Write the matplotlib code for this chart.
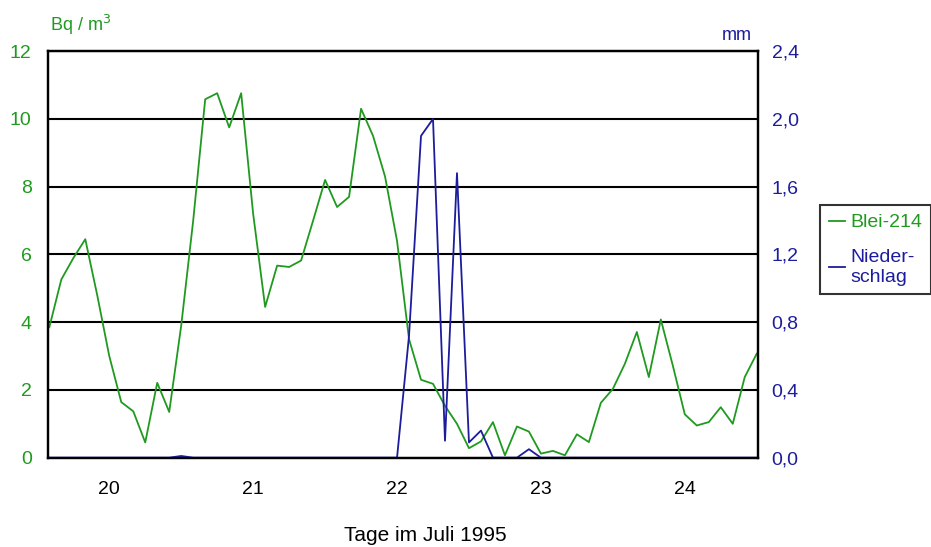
import matplotlib
matplotlib.use("Agg")
import matplotlib.pyplot as plt
import matplotlib.dates as mdates
import matplotlib.ticker as mticker
import pandas as pd

# 2-stuendige Messwerte ab 19.07.1995 14:00
zeit = pd.date_range("1995-07-19 14:00", periods=60, freq="2h")

blei214 = [3.85, 5.26, 5.89, 6.45, 4.79, 3.00, 1.64, 1.37, 0.45, 2.21,
           1.35, 3.90, 7.00, 10.58, 10.76, 9.75, 10.76, 7.20, 4.45, 5.67,
           5.63, 5.82, 7.00, 8.20, 7.40, 7.70, 10.30, 9.50, 8.30, 6.40,
           3.50, 2.30, 2.18, 1.53, 1.00, 0.28, 0.48, 1.05, 0.07, 0.92,
           0.77, 0.12, 0.20, 0.07, 0.69, 0.46, 1.62, 2.03, 2.77, 3.71,
           2.38, 4.08, 2.72, 1.28, 0.95, 1.05, 1.49, 1.00, 2.38, 3.07]

niederschlag = [0, 0, 0, 0, 0, 0, 0, 0, 0, 0,
                0, 0.01, 0, 0, 0, 0, 0, 0, 0, 0,
                0, 0, 0, 0, 0, 0, 0, 0, 0, 0,
                0.72, 1.90, 2.00, 0.10, 1.68, 0.09, 0.16, 0, 0, 0,
                0.05, 0, 0, 0, 0, 0, 0, 0, 0, 0,
                0, 0, 0, 0, 0, 0, 0, 0, 0, 0]

links_ticks = [0, 2, 4, 6, 8, 10, 12]
rechts_ticks = [0.0, 0.4, 0.8, 1.2, 1.6, 2.0, 2.4]

gruen = "#1f9a1f"
blau = "#1c1c9c"

plt.rcParams["font.family"] = ["Liberation Sans", "DejaVu Sans"]

fig = plt.figure(figsize=(9.31, 5.47), dpi=100)
ax = fig.add_axes([0.0519, 0.1633, 0.762, 0.7431])
ax2 = ax.twinx()

ax.plot(zeit, blei214, color=gruen, lw=1.3, label="Blei-214")
ax2.plot(zeit, niederschlag, color=blau, lw=1.3, label="Nieder-\nschlag")

ax.set_ylim(0, 12)
ax2.set_ylim(0, 2.4)
ax.set_yticks(links_ticks)
ax2.set_yticks(rechts_ticks)
ax2.yaxis.set_major_formatter(mticker.FuncFormatter(lambda v, p: f"{v:.1f}".replace(".", ",")))
ax.set_xlim(zeit[0] - pd.Timedelta(minutes=10), zeit[-1] + pd.Timedelta(minutes=10))
ax.xaxis.set_major_locator(mdates.DayLocator())
ax.xaxis.set_major_formatter(mdates.DateFormatter("%d"))

ax.grid(axis="y", color="black", lw=1.5)
ax.set_axisbelow(True)
for a in (ax, ax2):
    for s in a.spines.values():
        s.set_linewidth(1.6)
        s.set_color("black")

ax.tick_params(axis="y", length=0, pad=12, labelsize=14, labelcolor=gruen)
ax2.tick_params(axis="y", length=0, pad=10, labelsize=14, labelcolor=blau)
ax.tick_params(axis="x", length=0, pad=17, labelsize=14, labelcolor="black")

fig.text(0.457, 0.003, "Tage im Juli 1995", fontsize=15, ha="center", va="bottom")
fig.text(0.054, 0.932, "Bq / m$^3$", color=gruen, fontsize=13, ha="left", va="bottom")
fig.text(0.808, 0.92, "mm", color=blau, fontsize=13, ha="right", va="bottom")

h1, l1 = ax.get_legend_handles_labels()
h2, l2 = ax2.get_legend_handles_labels()
leg = fig.legend(h1 + h2, l1 + l2, loc="upper left", bbox_to_anchor=(0.881, 0.625),
                 fontsize=14, handlelength=0.8, handletextpad=0.3, borderpad=0.45,
                 labelspacing=0.9, fancybox=False, frameon=True, borderaxespad=0)
leg.get_frame().set_edgecolor("black")
leg.get_frame().set_linewidth(1.5)
for t, c in zip(leg.get_texts(), [gruen, blau]):
    t.set_color(c)

fig.savefig("out.png", dpi=100)
